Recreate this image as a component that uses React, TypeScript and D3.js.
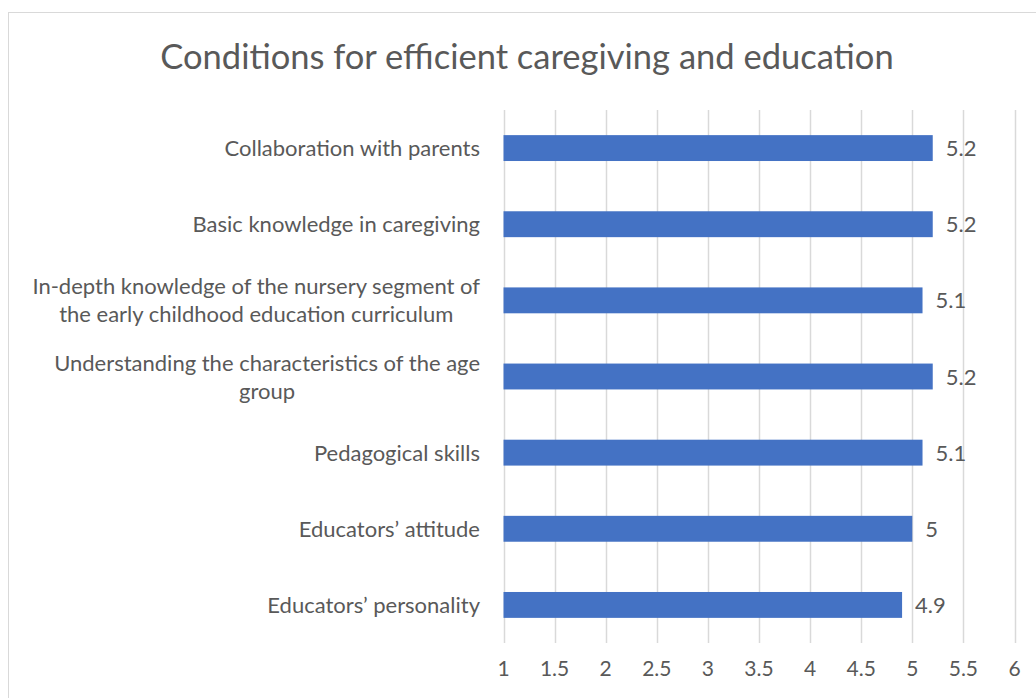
import React, { useEffect, useRef } from "react";
import * as d3 from "d3";

const categories: string[][] = [
  ["Collaboration with parents"],
  ["Basic knowledge in caregiving"],
  ["In-depth knowledge of the nursery segment of", "the early childhood education curriculum"],
  ["Understanding the characteristics of the age", "group"],
  ["Pedagogical skills"],
  ["Educators\u2019 attitude"],
  ["Educators\u2019 personality"],
];
const values: number[] = [5.2, 5.2, 5.1, 5.2, 5.1, 5.0, 4.9];
const valueLabels: string[] = ["5.2", "5.2", "5.1", "5.2", "5.1", "5", "4.9"];
const tickValues: number[] = [1, 1.5, 2, 2.5, 3, 3.5, 4, 4.5, 5, 5.5, 6];
const title = "Conditions for efficient caregiving and education";

const W = 1036;
const H = 698;
const FONT = "Lato, 'Open Sans', sans-serif";
const TEXT = "#595959";

export default function App() {
  const ref = useRef<SVGSVGElement | null>(null);

  useEffect(() => {
    const svg = d3.select(ref.current);
    svg.selectAll("*").remove();

    svg
      .append("rect")
      .attr("x", 8.5)
      .attr("y", 12.5)
      .attr("width", 1040)
      .attr("height", 700)
      .attr("fill", "#fff")
      .attr("stroke", "#d9d9d9")
      .attr("stroke-width", 1);

    svg
      .append("text")
      .attr("x", 527)
      .attr("y", 69)
      .attr("text-anchor", "middle")
      .attr("font-family", FONT)
      .attr("font-size", 34.5)
      .attr("fill", TEXT)
      .text(title);

    const x = d3.scaleLinear().domain([1, 6]).range([503.5, 1014.5]);
    const y = d3
      .scaleBand<number>()
      .domain(d3.range(categories.length))
      .range([110, 643])
      .paddingInner(0.66)
      .paddingOuter(0.33);

    svg
      .append("g")
      .selectAll("line")
      .data(tickValues)
      .join("line")
      .attr("x1", (d) => Math.round(x(d)) + 0.5)
      .attr("x2", (d) => Math.round(x(d)) + 0.5)
      .attr("y1", 110)
      .attr("y2", 643)
      .attr("stroke", "#d9d9d9")
      .attr("stroke-width", 1.5);

    svg
      .append("g")
      .selectAll("text")
      .data(tickValues)
      .join("text")
      .attr("x", (d) => x(d))
      .attr("y", 676)
      .attr("text-anchor", "middle")
      .attr("font-family", FONT)
      .attr("font-size", 21)
      .attr("fill", TEXT)
      .text((d) => String(d));

    svg
      .append("g")
      .selectAll("rect")
      .data(values)
      .join("rect")
      .attr("x", x(1))
      .attr("y", (_, i) => y(i)!)
      .attr("width", (d) => x(d) - x(1))
      .attr("height", y.bandwidth())
      .attr("fill", "#4472c4");

    svg
      .append("g")
      .selectAll("text")
      .data(values)
      .join("text")
      .attr("x", (d) => x(d) + 13)
      .attr("y", (_, i) => y(i)! + y.bandwidth() / 2 + 8)
      .attr("font-family", FONT)
      .attr("font-size", 22)
      .attr("fill", TEXT)
      .text((_, i) => valueLabels[i]);

    const labelRight = 480;
    const lineH = 28;
    categories.forEach((lines, i) => {
      const cy = y(i)! + y.bandwidth() / 2;
      const g = svg.append("g");
      const texts = lines.map((l) =>
        g
          .append("text")
          .attr("font-family", FONT)
          .attr("font-size", 22)
          .attr("fill", TEXT)
          .text(l)
      );
      const widths = texts.map((t) => (t.node() as SVGTextElement).getComputedTextLength());
      const maxW = Math.max(...widths);
      const cx = labelRight - maxW / 2;
      const top = cy - ((lines.length - 1) * lineH) / 2;
      texts.forEach((t, k) => {
        t.attr("x", cx)
          .attr("text-anchor", "middle")
          .attr("y", top + k * lineH + 8);
      });
    });
  }, []);

  return (
    <svg
      ref={ref}
      width={W}
      height={H}
      style={{ position: "absolute", left: 0, top: 0, background: "#fff" }}
    />
  );
}
